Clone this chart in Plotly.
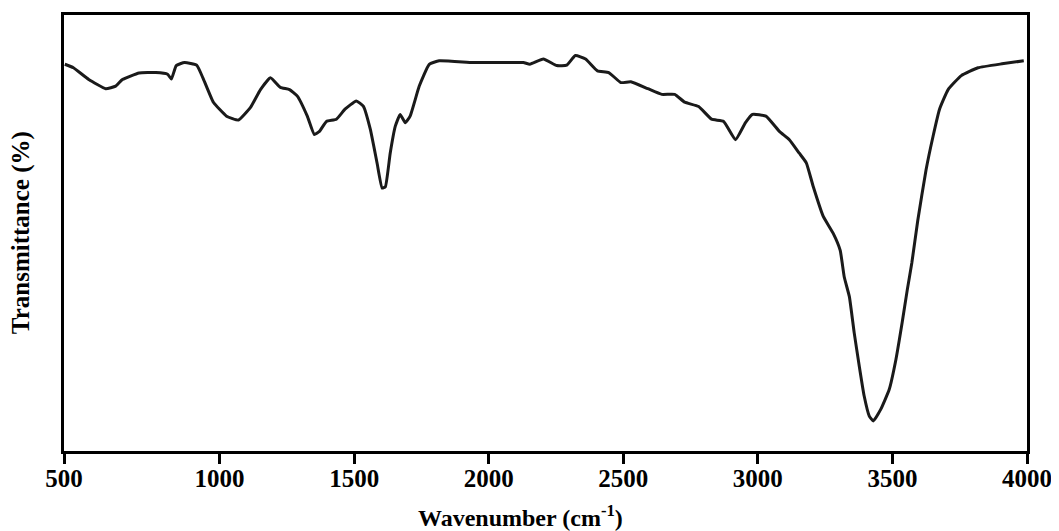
import plotly.graph_objects as go

wavenumber = [425, 457, 514, 577, 614, 639, 701, 763, 807, 821, 839, 870, 915, 940, 977,
              1026, 1070, 1115, 1152, 1189, 1226, 1260, 1289, 1326, 1352, 1371, 1397, 1434,
              1466, 1508, 1534, 1560, 1585, 1604, 1616, 1634, 1653, 1671, 1690, 1708, 1742,
              1779, 1816, 1942, 2068, 2129, 2153, 2203, 2253, 2290, 2322, 2360, 2404, 2446,
              2491, 2528, 2591, 2643, 2691, 2728, 2780, 2828, 2873, 2917, 2954, 2980, 3030,
              3080, 3117, 3154, 3180, 3206, 3243, 3280, 3306, 3321, 3340, 3358, 3377, 3395,
              3414, 3429, 3457, 3488, 3513, 3536, 3555, 3572, 3594, 3625, 3651, 3675, 3707,
              3756, 3818, 3907, 3988]
transmittance = [88.7, 87.9, 85.2, 83.1, 83.7, 85.2, 86.7, 86.8, 86.4, 85.3, 88.4, 89.1, 88.5,
                 85.3, 80.0, 76.8, 75.9, 78.8, 82.9, 85.6, 83.4, 82.9, 81.4, 76.8, 72.6, 73.3,
                 75.6, 76.1, 78.4, 80.3, 79.1, 73.8, 66.1, 60.3, 60.6, 68.3, 74.5, 77.2, 75.3,
                 76.8, 83.7, 88.7, 89.5, 89.1, 89.1, 89.1, 88.7, 89.9, 88.4, 88.5, 90.7, 89.9,
                 87.2, 86.8, 84.5, 84.7, 83.1, 81.8, 81.8, 80.0, 79.0, 76.1, 75.6, 71.4, 75.3,
                 77.2, 76.8, 73.3, 71.4, 68.3, 66.1, 60.6, 53.8, 49.9, 46.0, 39.9, 35.4, 27.1,
                 19.4, 12.6, 8.0, 6.9, 9.6, 14.1, 21.0, 29.4, 36.9, 43.1, 52.8, 64.5, 72.2,
                 78.4, 82.9, 86.1, 87.9, 88.8, 89.5]

tick_vals = [422, 1000, 1500, 2000, 2500, 3000, 3500, 4000]
tick_text = ["500", "1000", "1500", "2000", "2500", "3000", "3500", "4000"]

x_title = "<b>Wavenumber (cm<sup>-1</sup>)</b>"
y_title = "<b>Transmittance (%)</b>"

fig = go.Figure()
fig.add_trace(go.Scatter(x=wavenumber, y=transmittance, mode="lines",
                         line=dict(color="#1a1a1a", width=3, shape="spline", smoothing=0.4),
                         showlegend=False, hoverinfo="skip"))

# page body adds an 8px margin, so the figure is sized to fit the window
fig.update_layout(
    width=1051, height=523,
    margin=dict(l=56, r=32, t=7, b=80),
    paper_bgcolor="white", plot_bgcolor="white",
    font=dict(family="Liberation Serif", color="black"),
    annotations=[
        dict(text=x_title, xref="paper", yref="paper", x=0.474, y=-0.148,
             xanchor="center", yanchor="middle", showarrow=False,
             font=dict(family="Liberation Serif", size=24, color="black")),
        dict(text=y_title, xref="paper", yref="paper", x=-0.0445, y=0.5,
             xanchor="center", yanchor="middle", showarrow=False, textangle=-90,
             font=dict(family="Liberation Serif", size=25, color="black")),
    ],
)
fig.update_xaxes(
    range=[422, 4000], tickvals=tick_vals, ticktext=tick_text, automargin=False,
    showline=True, linecolor="black", linewidth=3, mirror=True,
    ticks="outside", ticklen=10, tickwidth=3, tickcolor="black",
    ticklabelstandoff=-7,
    showgrid=False, zeroline=False,
    tickfont=dict(family="Liberation Serif", size=25, color="black", weight="bold"),
)
fig.update_yaxes(
    range=[0, 100], showticklabels=False, ticks="", automargin=False,
    showline=True, linecolor="black", linewidth=3, mirror=True,
    showgrid=False, zeroline=False,
)

fig.write_html("out.html")
